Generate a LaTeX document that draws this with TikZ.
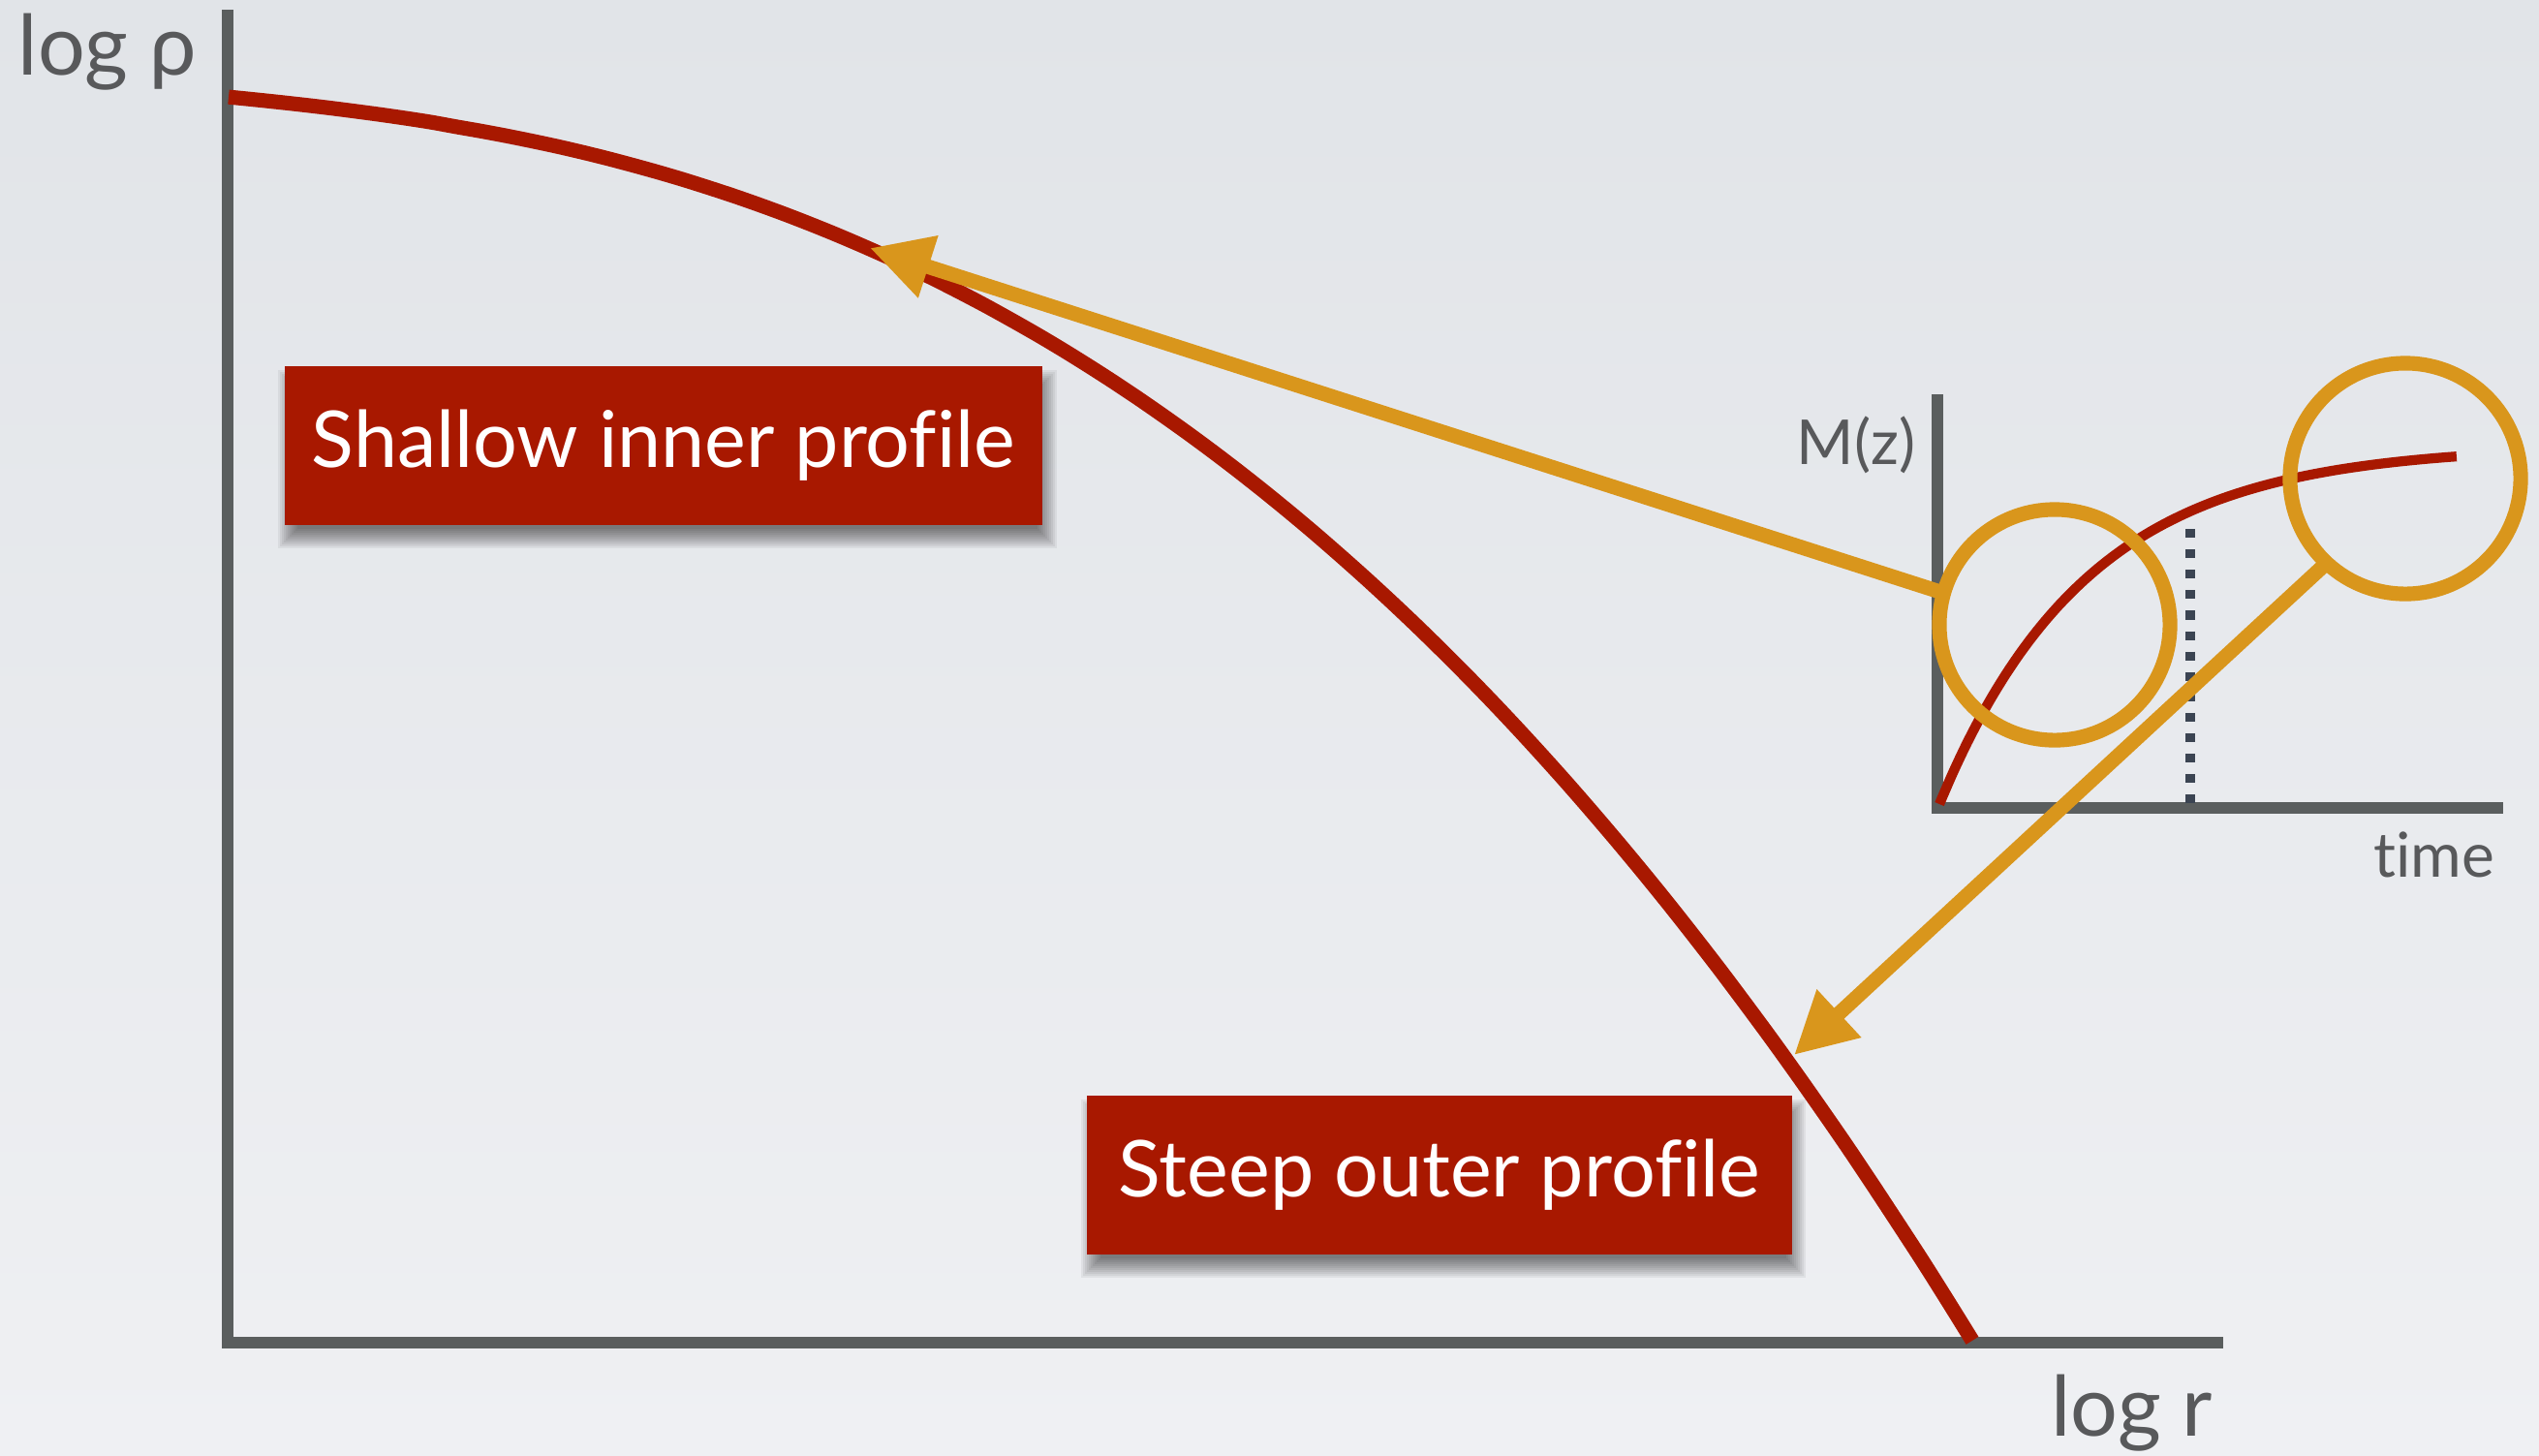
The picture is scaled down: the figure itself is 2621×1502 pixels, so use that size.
\documentclass[tikz,border=0pt]{standalone}
\usepackage{fontspec}
\setmainfont{Lato}[Ligatures=NoCommon]
\usepackage{tikz}
\usetikzlibrary{arrows.meta,positioning,calc}
\definecolor{axisgray}{RGB}{90,94,94}
\definecolor{profred}{RGB}{168,24,0}
\definecolor{zoomgold}{RGB}{217,150,28}
\definecolor{markslate}{RGB}{59,68,82}
\definecolor{labelgray}{RGB}{88,89,91}
\definecolor{bgtop}{RGB}{225,228,232}
\definecolor{bgbot}{RGB}{239,240,243}
\pgfdeclarelayer{paper}
\pgfdeclarelayer{shadow}
\pgfsetlayers{paper,shadow,main}

\begin{document}
\begin{tikzpicture}[x=0.01cm,y=-0.01cm,
   axis/.style={draw=axisgray,line width=3.5pt},
   profile/.style={draw=profred,line width=4.3pt},
   ring/.style={circle,draw=zoomgold,line width=4.3pt,minimum size=2.38cm,inner sep=0pt,outer sep=0pt},
   pointer/.style={draw=zoomgold,line width=4.3pt,-{Triangle[length=18pt,width=18pt]}},
   tag/.style={fill=profred,text=white,minimum width=7.82cm,minimum height=1.63cm,
     font=\fontsize{23}{28}\selectfont},
   axlabel/.style={text=labelgray,inner sep=0pt,font=\fontsize{24.5}{29}\selectfont},
   smalllabel/.style={text=labelgray,inner sep=0pt,font=\fontsize{18.2}{22}\selectfont}]
  \begin{pgfonlayer}{paper}
    \shade[top color=bgtop,bottom color=bgbot] (0,0) rectangle (2621,1502);
  \end{pgfonlayer}
  \useasboundingbox (0,0) rectangle (2621,1502);
  % main log-log axes
  \coordinate (O) at (235,1386);
  \draw[axis] (235,10) -- (O) -- (2295,1386);
  \node[axlabel,anchor=base west] (rholab) at (18,77) {log ρ};
  \node[axlabel,anchor=base east] (rlab) at (2285,1482) {log r};
  % density profile
  \draw[profile] plot[domain=1:1801,samples=70,smooth]
     ({235+\x},{100+0.1*\x+1104*(\x/1801)^2.5});
  \node[tag] (inner) at (685,460) {Shallow inner profile};
  \node[tag,minimum width=7.27cm] (outer) at (1486,1213) {Steep outer profile};
  % soft shadows under the two labels
  \begin{pgfonlayer}{shadow}
    \foreach \b in {inner,outer}
      \foreach \e in {10,8,...,-10}
        \fill[black,opacity=0.055] ($(\b.north west)+(4-\e,14-\e)$) rectangle ($(\b.south east)+(4+\e,14+\e)$);
  \end{pgfonlayer}
  % inset: mass accretion history
  \coordinate (io) at (2000,834);
  \draw[axis] (2000,407) -- (io) -- (2584,834);
  \node[smalllabel,anchor=base east] (mlab) at (1978,479) {M(z)};
  \node[smalllabel,anchor=base east] (tlab) at (2576,905) {time};
  \coordinate (tmark) at (2261,546);
  \draw[markslate,line width=2.6pt,dash pattern=on 2.6pt off 3.4pt] (tmark) -- (tmark |- io);
  \draw[profile,line width=2.9pt] plot[domain=0:1,samples=40,smooth]
     ({2002+534*\x},{830-370*(1-exp(-3.5*\x))});
  \node[ring] (early) at (2121,645) {};
  \node[ring] (late) at (2483,494) {};
  % early / late growth map onto inner / outer parts
  \coordinate (innertip) at (898,256);
  \coordinate (outertip) at (1852,1089);
  \draw[pointer] (early.164) -- (innertip);
  \draw[pointer] (late.227) -- (outertip);
\end{tikzpicture}
\end{document}
